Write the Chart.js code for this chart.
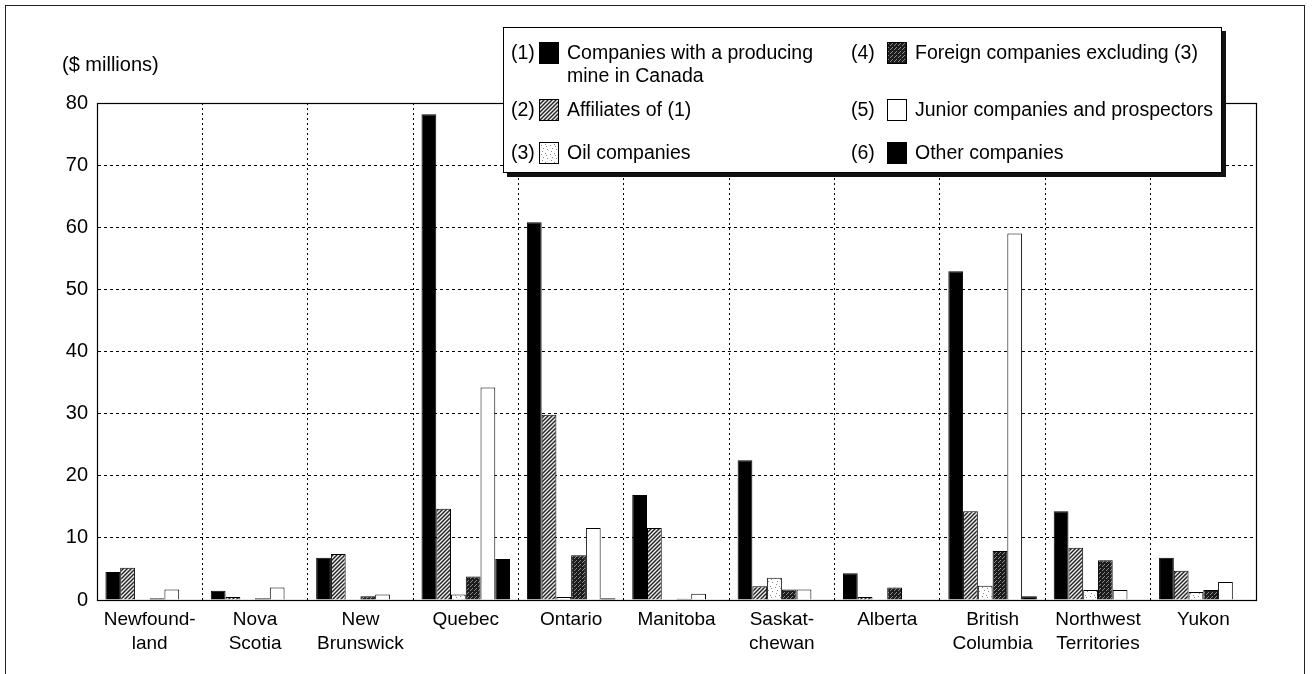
<!DOCTYPE html>
<html>
<head>
<meta charset="utf-8">
<script src="https://cdn.jsdelivr.net/npm/chart.js@4.4.1/dist/chart.umd.min.js"></script>
<style>
  body { margin: 0; background: #fff; font-family: "Liberation Sans", Arial, sans-serif; color: #000; }
  #wrap { position: relative; width: 1312px; height: 674px; overflow: hidden; }
  #frame { position: absolute; left: 5px; top: 5px; width: 1298px; height: 700px; border: 1px solid #222; border-bottom: none; }
  #unit { position: absolute; left: 62px; top: 53px; font-size: 20px; }
  #legend { position: absolute; left: 503px; top: 27px; width: 717px; height: 144px; background: #fff;
            border: 1px solid #000; box-shadow: 4px 4px 0 #111; font-size: 19.5px; }
  #legend div { position: absolute; line-height: 23px; white-space: nowrap; }
  #legend canvas { position: absolute; border: 1px solid #000; }
  #chart { position: absolute; left: 0; top: 0; }
</style>
</head>
<body>
<div id="wrap">
  <div id="frame"></div>
  <canvas id="chart" width="1312" height="674"></canvas>
  <div id="unit">($ millions)</div>
  <div id="legend"></div>
</div>
<script>
const provinces = [
  ['Newfound-', 'land'], ['Nova', 'Scotia'], ['New', 'Brunswick'], 'Quebec', 'Ontario', 'Manitoba',
  ['Saskat-', 'chewan'], 'Alberta', ['British', 'Columbia'], ['Northwest', 'Territories'], 'Yukon'
];
const seriesNames = [
  ['Companies with a producing', 'mine in Canada'],
  ['Affiliates of (1)'],
  ['Oil companies'],
  ['Foreign companies excluding (3)'],
  ['Junior companies and prospectors'],
  ['Other companies']
];
const producing  = [4.5, 1.5, 6.8, 78.2, 60.8, 16.9, 22.5, 4.3, 52.9, 14.3, 6.8];
const affiliates = [5.2, 0.5, 7.4, 14.7, 29.8, 11.6, 2.2, 0.5, 14.3, 8.4, 4.7];
const oil        = [0, 0, 0, 0.9, 0.5, 0, 3.6, 0, 2.3, 1.6, 1.3];
const foreign    = [0.3, 0.3, 0.6, 3.8, 7.2, 0.2, 1.7, 2.0, 7.9, 6.4, 1.6];
const junior     = [1.7, 2.0, 0.9, 34.2, 11.6, 1.0, 1.7, 0.1, 59.0, 1.6, 2.9];
const other      = [0, 0, 0, 6.6, 0.3, 0.1, 0.1, 0.1, 0.6, 0.1, 0.1];
const yTicks = [0, 10, 20, 30, 40, 50, 60, 70, 80];

// fill patterns standing in for the printed shadings
function makePattern(kind) {
  const c = document.createElement('canvas');
  const g = c.getContext('2d');
  if (kind === 'hatch') {
    c.width = c.height = 4;
    g.fillStyle = '#eee'; g.fillRect(0, 0, 4, 4);
    g.strokeStyle = '#222'; g.lineWidth = 1.4;
    g.beginPath();
    g.moveTo(0, 4); g.lineTo(4, 0);
    g.moveTo(-1, 1); g.lineTo(1, -1);
    g.moveTo(3, 5); g.lineTo(5, 3);
    g.stroke();
  } else if (kind === 'speckle') {
    c.width = c.height = 9;
    g.fillStyle = '#fff'; g.fillRect(0, 0, 9, 9);
    g.fillStyle = '#888';
    [[1, 2], [5, 1], [3, 5], [7, 6], [2, 8], [6, 3]].forEach(p => g.fillRect(p[0], p[1], 1, 1));
  } else if (kind === 'stipple') {
    c.width = c.height = 4;
    g.fillStyle = '#1c1c1c'; g.fillRect(0, 0, 4, 4);
    g.fillStyle = '#8a8a8a';
    g.fillRect(0, 0, 1, 1); g.fillRect(2, 2, 1, 1); g.fillRect(3, 1, 1, 1);
  }
  return g.createPattern(c, 'repeat');
}

const ctx = document.getElementById('chart').getContext('2d');
const fills = ['#000', makePattern('hatch'), makePattern('speckle'), makePattern('stipple'), '#fff', '#000'];
const values = [producing, affiliates, oil, foreign, junior, other];

const frameBox = {
  id: 'frameBox',
  afterDraw(chart) {
    const a = chart.chartArea, c = chart.ctx;
    c.save();
    c.strokeStyle = '#000'; c.lineWidth = 1.2;
    c.strokeRect(Math.round(a.left) + 0.5, Math.round(a.top) + 0.5, Math.round(a.right - a.left), Math.round(a.bottom - a.top));
    c.restore();
  }
};

new Chart(ctx, {
  type: 'bar',
  data: {
    labels: provinces,
    datasets: values.map((v, i) => ({
      label: seriesNames[i].join(' '),
      data: v,
      backgroundColor: fills[i],
      borderColor: '#000',
      borderWidth: 1,
      barPercentage: 1,
      categoryPercentage: 0.84
    }))
  },
  options: {
    responsive: false,
    animation: false,
    layout: { padding: { left: 0, right: 56, top: 103, bottom: 10 } },
    plugins: { legend: { display: false }, tooltip: { enabled: false } },
    scales: {
      y: {
        min: 0, max: 80,
        afterFit: s => { s.width = 97; },
        afterBuildTicks: s => { s.ticks = yTicks.map(v => ({ value: v })); },
        grid: { color: '#000', lineWidth: 1, drawTicks: false },
        border: { display: true, color: '#000', dash: [3, 3] },
        ticks: { color: '#000', padding: 9, font: { family: '"Liberation Sans", Arial', size: 20 } }
      },
      x: {
        afterFit: s => { s.height = 64; },
        grid: { color: '#000', lineWidth: 1, drawTicks: false, offset: true },
        border: { display: true, color: '#000', dash: [2, 3] },
        ticks: { color: '#000', padding: 8, maxRotation: 0, autoSkip: false,
                 font: { family: '"Liberation Sans", Arial', size: 19, lineHeight: 1.25 } }
      }
    }
  },
  plugins: [frameBox]
});

// legend box, laid out as in the printed figure
const legend = document.getElementById('legend');
const cols = [{ num: 9, sw: 35, txt: 63 }, { num: 349, sw: 383, txt: 411 }];
const rows = [13, 70, 113];
seriesNames.forEach((name, i) => {
  const col = cols[Math.floor(i / 3)], top = rows[i % 3];
  const n = document.createElement('div');
  n.textContent = '(' + (i + 1) + ')';
  n.style.left = (col.num - 2) + 'px'; n.style.top = top + 'px';
  legend.appendChild(n);
  const sw = document.createElement('canvas');
  sw.width = 18; sw.height = 20;
  sw.style.left = col.sw + 'px'; sw.style.top = (top + 1) + 'px';
  const sg = sw.getContext('2d');
  sg.fillStyle = fills[i]; sg.fillRect(0, 0, 18, 20);
  legend.appendChild(sw);
  const t = document.createElement('div');
  t.innerHTML = name.join('<br>');
  t.style.left = col.txt + 'px'; t.style.top = top + 'px';
  legend.appendChild(t);
});
</script>
</body>
</html>
